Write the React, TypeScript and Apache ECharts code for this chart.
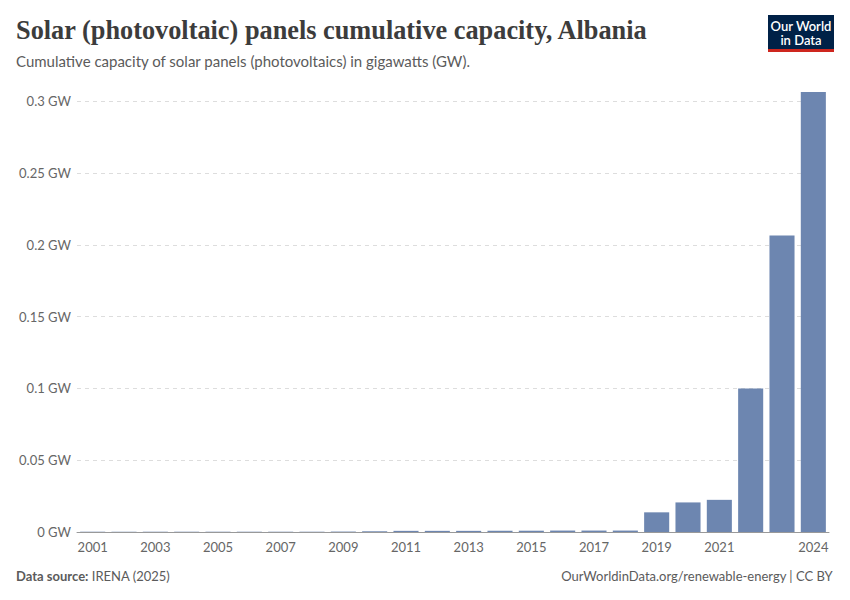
import React, { useEffect, useRef } from "react";
import * as echarts from "echarts";

const years = ["2001","2002","2003","2004","2005","2006","2007","2008","2009","2010","2011","2012","2013","2014","2015","2016","2017","2018","2019","2020","2021","2022","2023","2024"];
const capacityGW = [0.0002,0.0002,0.0002,0.0002,0.0002,0.0002,0.0002,0.0002,0.0003,0.0005,0.0008,0.0008,0.0008,0.0009,0.0009,0.001,0.001,0.001,0.0137,0.0206,0.0224,0.1,0.2065,0.3065];
const yTicks = [0, 0.05, 0.1, 0.15, 0.2, 0.25, 0.3];
const shownYearLabels = ["2001","2003","2005","2007","2009","2011","2013","2015","2017","2019","2021","2024"];

const TITLE = "Solar (photovoltaic) panels cumulative capacity, Albania";
const SUBTITLE = "Cumulative capacity of solar panels (photovoltaics) in gigawatts (GW).";

export default function App() {
  const ref = useRef<HTMLDivElement>(null);
  useEffect(() => {
    if (!ref.current) return;
    const chart = echarts.init(ref.current, undefined, { renderer: "svg" });
    const yMax = Math.max(...capacityGW);
    const showIdx = (i: number) => shownYearLabels.includes(years[i]);
    const gridColors = yTicks.map(() => "#dddddd").concat(["rgba(0,0,0,0)"]);
    chart.setOption({
      animation: false,
      backgroundColor: "#ffffff",
      grid: { left: 77, right: 21, top: 532 - yMax * (430.7 / 0.3), bottom: 68, containLabel: false },
      xAxis: {
        type: "category",
        data: years,
        axisLine: { lineStyle: { color: "#999999", width: 1 } },
        axisTick: { alignWithLabel: true, interval: (i: number) => showIdx(i), length: 4, lineStyle: { color: "#999999" } },
        axisLabel: {
          interval: (i: number) => showIdx(i),
          color: "#666666",
          fontFamily: "Lato",
          fontSize: 13,
          margin: 8,
        },
      },
      yAxis: {
        type: "value",
        min: 0,
        max: yMax,
        interval: 0.05,
        axisLine: { show: false },
        axisTick: { show: false },
        axisLabel: {
          showMaxLabel: false,
          color: "#666666",
          fontFamily: "Lato",
          fontSize: 13,
          margin: 6,
          formatter: (v: number) => (v === 0 ? "0 GW" : `${+v.toFixed(2)} GW`),
        },
        splitLine: { lineStyle: { color: gridColors, type: [4, 4], width: 1 } },
      },
      series: [
        {
          type: "bar",
          data: capacityGW,
          barCategoryGap: "20%",
          itemStyle: { color: "#6d86b0" },
        },
      ],
      graphic: [
        { type: "text", left: 16, top: 17, style: { text: TITLE, font: "bold 26.3px 'Liberation Serif'", fill: "#3c3c3c" } },
        { type: "text", left: 16, top: 53, style: { text: SUBTITLE, font: "15px Lato", fill: "#5b5b5b" } },
        { type: "rect", shape: { x: 768, y: 15, width: 66, height: 34 }, style: { fill: "#002147" } },
        { type: "rect", shape: { x: 768, y: 49, width: 66, height: 3 }, style: { fill: "#ce261e" } },
        { type: "text", x: 801, y: 25.5, style: { text: "Our World", font: "600 13px Lato", fill: "#ffffff", align: "center", verticalAlign: "middle" } },
        { type: "text", x: 801, y: 40, style: { text: "in Data", font: "600 13px Lato", fill: "#ffffff", align: "center", verticalAlign: "middle" } },
        {
          type: "text", left: 16, top: 569,
          style: {
            text: "{b|Data source:} IRENA (2025)",
            font: "13px Lato", fill: "#5b5b5b",
            rich: { b: { fontWeight: "bold", fontFamily: "Lato", fontSize: 13, fill: "#5b5b5b" } },
          },
        },
        { type: "text", right: 17, top: 569, style: { text: "OurWorldinData.org/renewable-energy | CC BY", font: "13px Lato", fill: "#5b5b5b" } },
      ],
    });
    return () => chart.dispose();
  }, []);
  return <div ref={ref} style={{ position: "fixed", left: 0, top: 0, width: 850, height: 600 }} />;
}
